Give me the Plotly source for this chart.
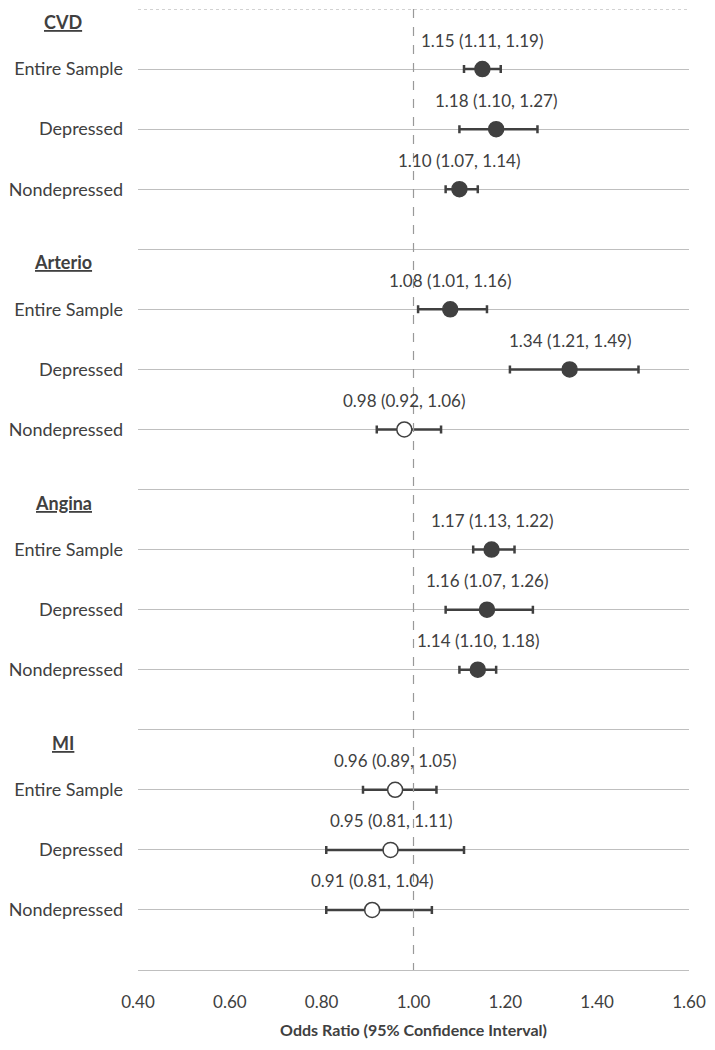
import plotly.graph_objects as go

groups = ["CVD", "Arterio", "Angina", "MI"]
subgroups = ["Entire Sample", "Depressed", "Nondepressed"]

odds = [1.15, 1.18, 1.10, 1.08, 1.34, 0.98, 1.17, 1.16, 1.14, 0.96, 0.95, 0.91]
lower = [1.11, 1.10, 1.07, 1.01, 1.21, 0.92, 1.13, 1.07, 1.10, 0.89, 0.81, 0.81]
upper = [1.19, 1.27, 1.14, 1.16, 1.49, 1.06, 1.22, 1.26, 1.18, 1.05, 1.11, 1.04]
significant = [True, True, True, True, True, False, True, True, True, False, False, False]

x_ticks = [0.40, 0.60, 0.80, 1.00, 1.20, 1.40, 1.60]

# row positions: each group takes 4 slots (header/blank + 3 subgroups)
rows = []
for g in range(len(groups)):
    for s in range(len(subgroups)):
        rows.append(g * 4 + s + 1)

dark = "#404040"
txt = "#404040"
font = "Lato, Open Sans, sans-serif"

fig = go.Figure()

for filled in (True, False):
    idx = [i for i in range(len(odds)) if significant[i] == filled]
    fig.add_trace(go.Scatter(
        x=[odds[i] for i in idx],
        y=[rows[i] for i in idx],
        mode="markers",
        marker=dict(size=15, color=dark if filled else "white",
                    line=dict(color=dark, width=1.5)),
        error_x=dict(type="data", symmetric=False,
                     array=[upper[i] - odds[i] for i in idx],
                     arrayminus=[odds[i] - lower[i] for i in idx],
                     color=dark, thickness=2.5, width=4),
        showlegend=False,
        hoverinfo="skip",
    ))

for i in range(len(odds)):
    fig.add_annotation(x=odds[i], y=rows[i], yshift=29, showarrow=False,
                       text=f"{odds[i]:.2f} ({lower[i]:.2f}, {upper[i]:.2f})",
                       font=dict(size=17, color=txt, family=font))

for g, name in enumerate(groups):
    fig.add_annotation(x=-0.136, xref="paper", y=g * 4 + 0.22, yref="y",
                       showarrow=False, xanchor="center",
                       text=f"<b><u>{name}</u></b>",
                       font=dict(size=18, color=txt, family=font))

tickvals = list(range(1, 17))
ticktext = []
for k in tickvals:
    if k % 4 == 0:
        ticktext.append("")
    else:
        ticktext.append(subgroups[k % 4 - 1])

fig.add_shape(type="line", xref="paper", yref="y", x0=0, x1=1, y0=0, y1=0,
              line=dict(color="#a6a6a6", width=1, dash="dot"))
fig.add_shape(type="line", xref="x", yref="y", x0=1.0, x1=1.0, y0=0, y1=16,
              line=dict(color="#999999", width=1.2, dash="dash"))

# page body has an 8px margin, so the figure is sized to fit inside the window
fig.update_layout(
    width=707, height=1034,
    margin=dict(l=130, r=26, t=1, b=72),
    plot_bgcolor="white", paper_bgcolor="white",
    font=dict(family=font, color=txt),
    xaxis=dict(range=[0.4, 1.6], tickvals=x_ticks, tickformat=".2f",
               showgrid=False, zeroline=False, automargin=False,
               showline=True, linecolor="#bfbfbf", linewidth=1,
               ticklabeloverflow="allow",
               tickfont=dict(size=17, color=txt), ticklabelstandoff=17,
               title=dict(text="<b>Odds Ratio (95% Confidence Interval)</b>",
                          font=dict(size=16, color=txt), standoff=13)),
    yaxis=dict(range=[16, 0], tickvals=tickvals, ticktext=ticktext,
               showgrid=True, gridcolor="#bfbfbf", gridwidth=1,
               zeroline=False, automargin=False,
               tickfont=dict(size=18, color=txt),
               ticklabelstandoff=14),
)

fig.write_html("out.html")
